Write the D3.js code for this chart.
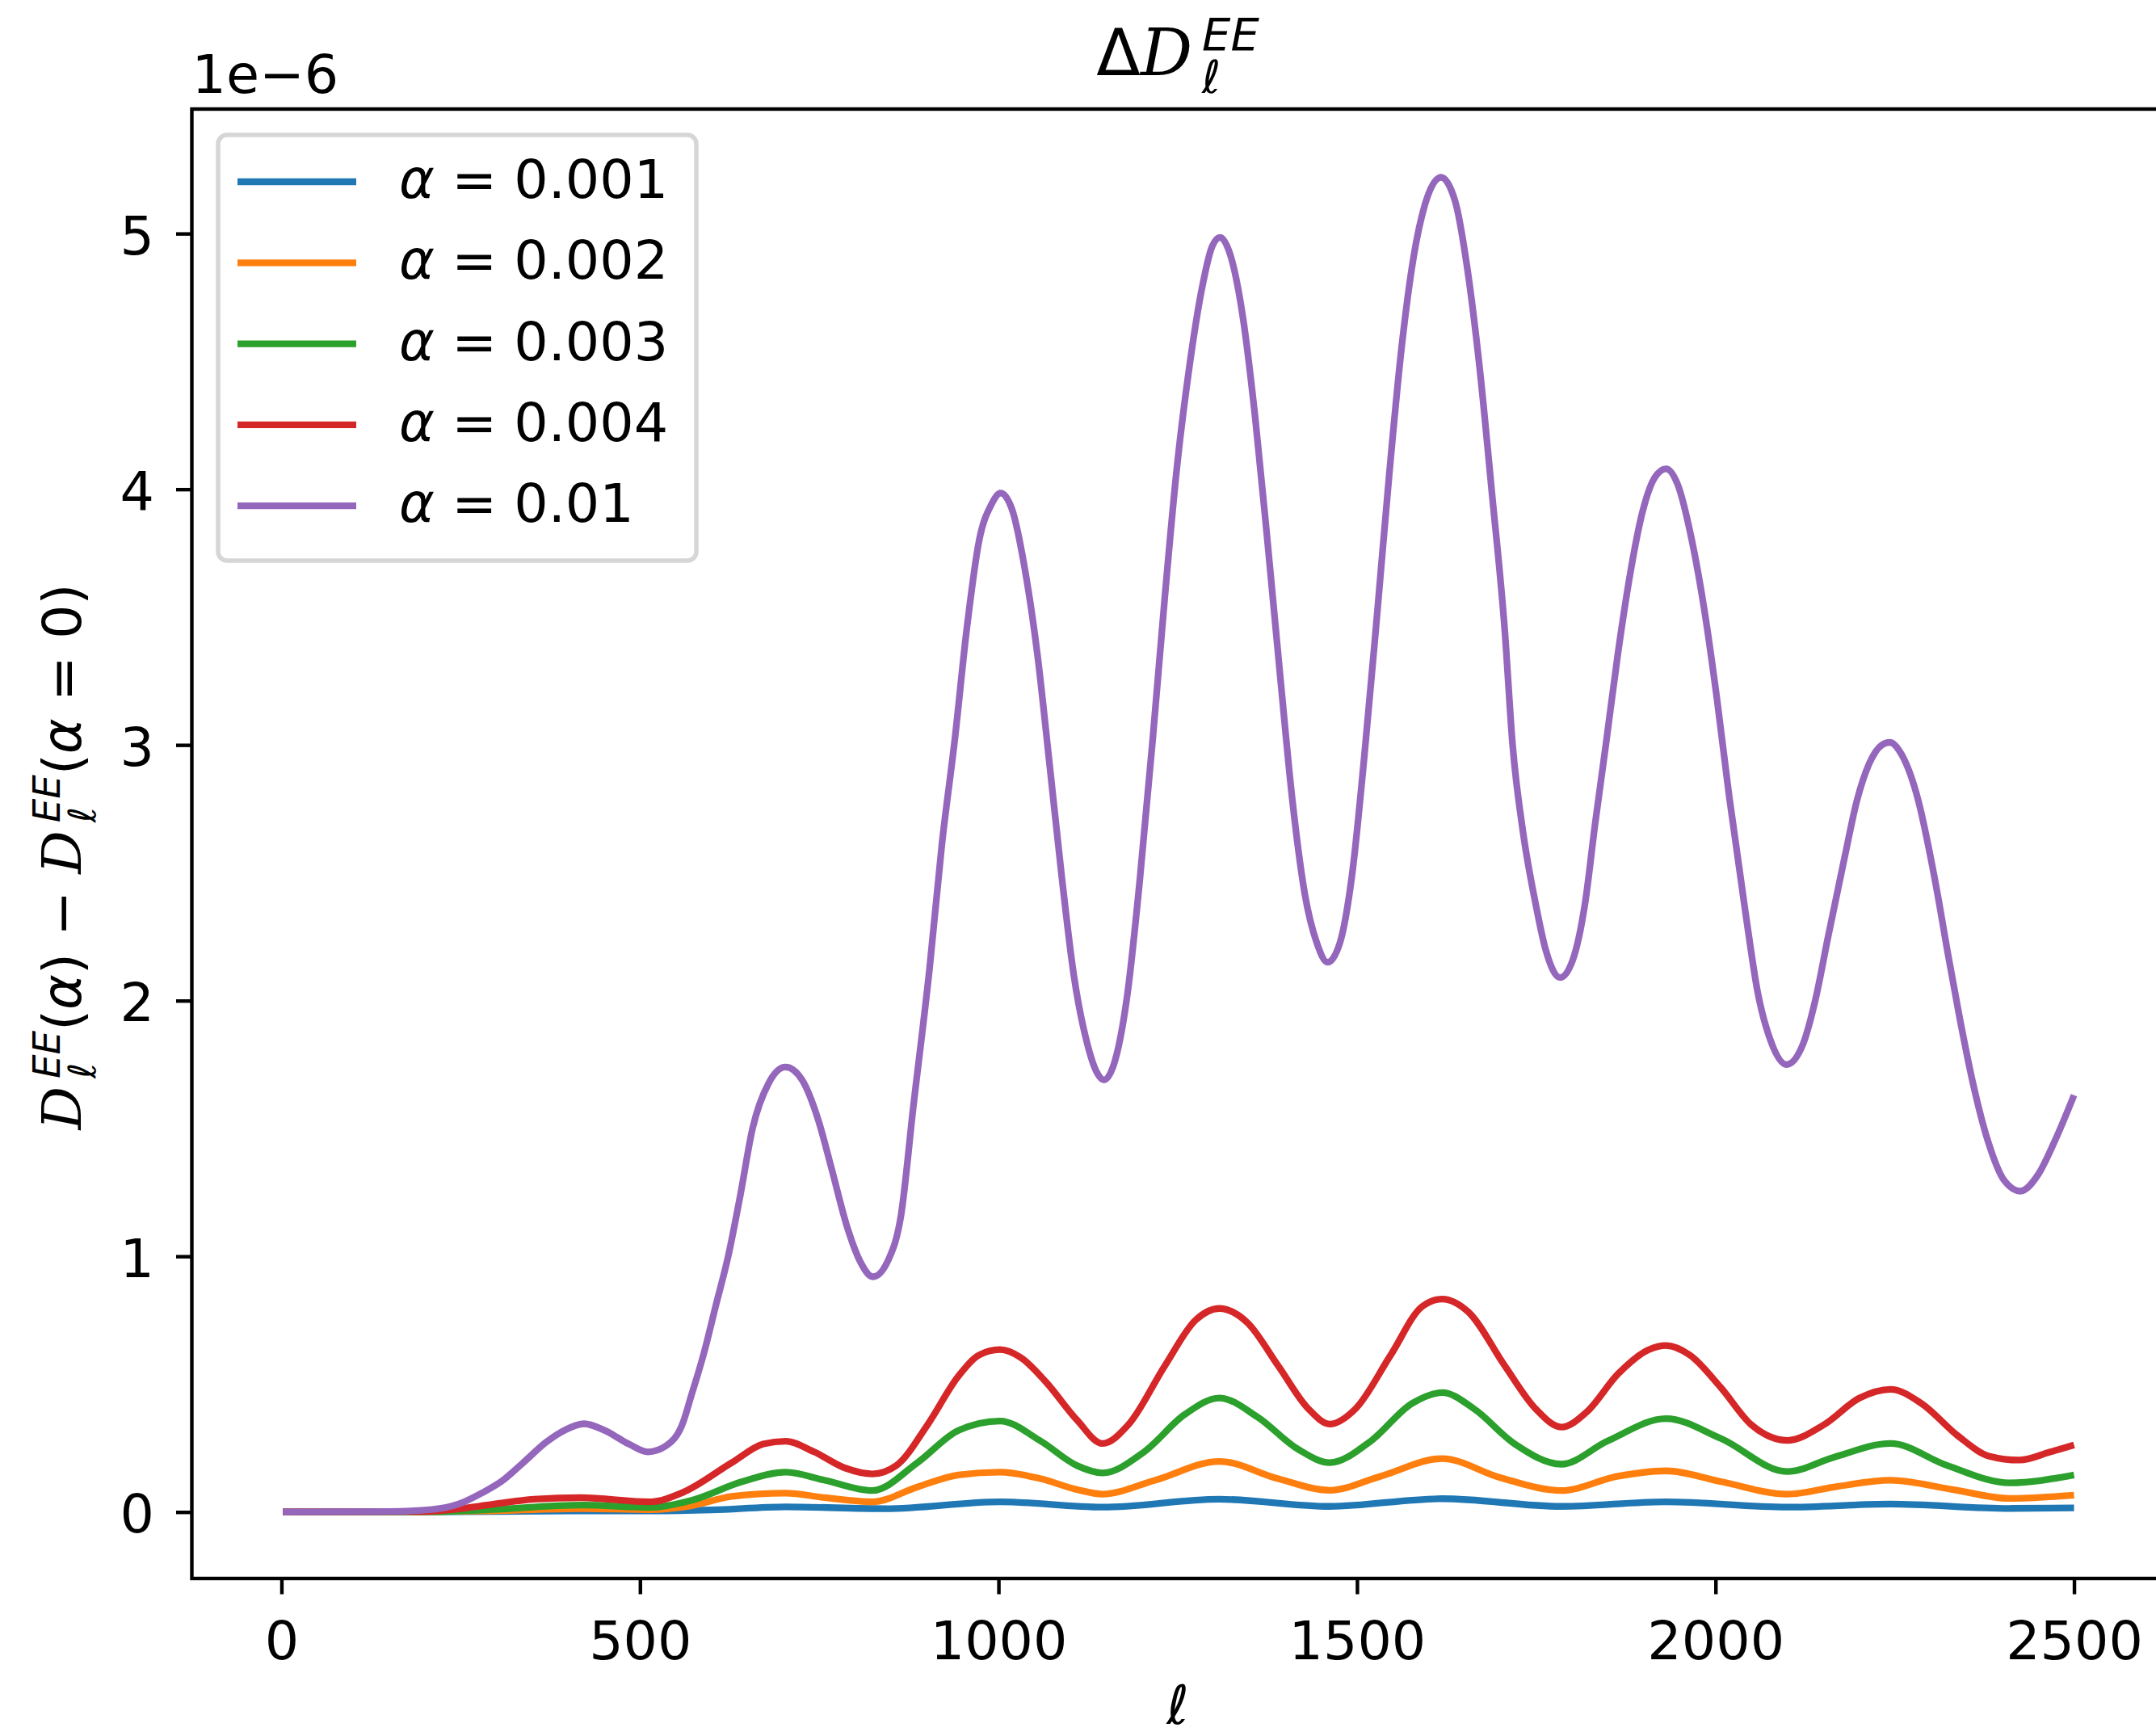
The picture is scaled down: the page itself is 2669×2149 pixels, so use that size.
<!DOCTYPE html>
<html><head><meta charset="utf-8">
<script src="https://cdn.jsdelivr.net/npm/d3@7"></script>
<style>body{margin:0;background:#fff}svg{display:block}</style>
</head><body>
<script>
// ---------------- data ----------------
const alphaLabels = ["0.001", "0.002", "0.003", "0.004", "0.01"];
const colors = ["#1f77b4", "#ff7f0e", "#2ca02c", "#d62728", "#9467bd"];
const xTicks = [0, 500, 1000, 1500, 2000, 2500];
const yTicks = [0, 1, 2, 3, 4, 5];
const offsetLabel = "1e\u22126";

const ell001 = [2, 200, 300, 420, 520, 600, 703, 843, 1002, 1145, 1308, 1462, 1619, 1785, 1931, 2100, 2244, 2410, 2500];
const val001 = [0, 0.0005, 0.002, 0.004, 0.004, 0.008, 0.020, 0.013, 0.040, 0.019, 0.050, 0.022, 0.052, 0.022, 0.040, 0.019, 0.031, 0.014, 0.016];

const ell002 = [2, 200, 284, 420, 514, 571, 628, 703, 758, 824, 887, 944, 1002, 1059, 1109, 1145, 1218, 1308, 1390, 1462, 1533, 1619, 1699, 1785, 1864, 1931, 2007, 2100, 2170, 2244, 2330, 2410, 2500];
const val002 = [0, 0.001, 0.004, 0.013, 0.009, 0.024, 0.061, 0.074, 0.056, 0.040, 0.098, 0.145, 0.156, 0.130, 0.088, 0.070, 0.124, 0.198, 0.130, 0.085, 0.140, 0.209, 0.135, 0.084, 0.140, 0.161, 0.119, 0.070, 0.100, 0.124, 0.088, 0.053, 0.066];

const ell003 = [2, 200, 284, 420, 514, 571, 643, 703, 758, 824, 887, 944, 1002, 1059, 1109, 1145, 1203, 1260, 1308, 1361, 1418, 1462, 1519, 1577, 1619, 1663, 1720, 1785, 1849, 1931, 2007, 2100, 2165, 2244, 2323, 2410, 2500];
const val003 = [0, 0.001, 0.008, 0.027, 0.018, 0.045, 0.119, 0.156, 0.124, 0.084, 0.193, 0.319, 0.356, 0.277, 0.182, 0.153, 0.235, 0.382, 0.446, 0.372, 0.245, 0.193, 0.277, 0.425, 0.467, 0.404, 0.266, 0.187, 0.277, 0.365, 0.288, 0.158, 0.214, 0.268, 0.182, 0.114, 0.145];

const ell004 = [2, 200, 240, 295, 352, 418, 514, 560, 628, 672, 703, 743, 786, 824, 858, 901, 944, 973, 1002, 1031, 1066, 1109, 1145, 1181, 1232, 1275, 1308, 1347, 1390, 1432, 1462, 1498, 1547, 1591, 1619, 1655, 1706, 1749, 1785, 1821, 1864, 1907, 1931, 1964, 2007, 2050, 2100, 2151, 2201, 2244, 2287, 2338, 2381, 2424, 2467, 2500];
const val004 = [0, 0.002, 0.010, 0.030, 0.050, 0.056, 0.040, 0.077, 0.193, 0.266, 0.277, 0.235, 0.172, 0.149, 0.183, 0.341, 0.531, 0.614, 0.635, 0.604, 0.509, 0.361, 0.268, 0.341, 0.572, 0.751, 0.796, 0.741, 0.572, 0.404, 0.344, 0.404, 0.614, 0.804, 0.833, 0.783, 0.572, 0.404, 0.332, 0.393, 0.540, 0.635, 0.651, 0.614, 0.488, 0.341, 0.280, 0.341, 0.446, 0.480, 0.425, 0.298, 0.219, 0.203, 0.235, 0.262];

const ell01 = [2, 150, 210, 240, 255, 280, 307, 336, 370, 395, 422, 450, 485, 511, 537, 560, 571, 589, 606, 623, 640, 657, 680, 703, 726, 749, 767, 790, 807, 825, 847, 864, 881, 904, 921, 939, 956, 973, 990, 1003, 1019, 1036, 1054, 1071, 1088, 1105, 1123, 1137, 1147, 1163, 1180, 1197, 1215, 1232, 1249, 1266, 1284, 1298, 1309, 1324, 1341, 1358, 1375, 1393, 1410, 1427, 1444, 1459, 1476, 1493, 1510, 1528, 1545, 1562, 1579, 1596, 1617, 1637, 1654, 1671, 1688, 1706, 1717, 1732, 1749, 1763, 1783, 1801, 1818, 1832, 1847, 1864, 1881, 1898, 1915, 1931, 1947, 1967, 1984, 2002, 2019, 2042, 2059, 2076, 2099, 2122, 2139, 2157, 2180, 2197, 2214, 2232, 2243, 2260, 2283, 2300, 2312, 2323, 2340, 2358, 2380, 2403, 2425, 2450, 2473, 2500];
const val01 = [0, 0.002, 0.010, 0.025, 0.040, 0.075, 0.120, 0.190, 0.275, 0.320, 0.345, 0.320, 0.265, 0.235, 0.260, 0.350, 0.450, 0.620, 0.810, 1.000, 1.240, 1.500, 1.680, 1.740, 1.690, 1.530, 1.345, 1.105, 0.980, 0.920, 0.990, 1.160, 1.580, 2.130, 2.610, 3.020, 3.460, 3.800, 3.940, 3.985, 3.920, 3.700, 3.360, 2.930, 2.490, 2.100, 1.840, 1.720, 1.690, 1.770, 2.030, 2.470, 3.020, 3.580, 4.090, 4.475, 4.790, 4.950, 4.985, 4.910, 4.670, 4.280, 3.800, 3.265, 2.780, 2.420, 2.225, 2.150, 2.225, 2.490, 2.950, 3.510, 4.060, 4.550, 4.910, 5.125, 5.220, 5.125, 4.860, 4.475, 3.990, 3.450, 3.000, 2.650, 2.380, 2.200, 2.090, 2.160, 2.380, 2.690, 3.000, 3.360, 3.670, 3.910, 4.045, 4.080, 4.020, 3.800, 3.535, 3.180, 2.800, 2.340, 2.030, 1.850, 1.750, 1.830, 2.000, 2.250, 2.560, 2.780, 2.925, 3.000, 3.010, 2.960, 2.780, 2.560, 2.380, 2.200, 1.940, 1.690, 1.450, 1.295, 1.255, 1.320, 1.450, 1.630];

const seriesEll = [ell001, ell002, ell003, ell004, ell01];
const seriesVal = [val001, val002, val003, val004, val01];

// ---------------- layout ----------------
const W = 2669, H = 2149;
const L = 237.5, T = 135, R = 2678.5, B = 1954;
const FONT = "DejaVu Sans";
const FS = 66.7;

const svg = d3.select("body").append("svg").attr("width", W).attr("height", H)
  .style("font-family", FONT);
svg.append("rect").attr("width", W).attr("height", H).attr("fill", "#fff");

const x = d3.scaleLinear().domain([-125, 2625]).range([L, R]);
const y = d3.scaleLinear().domain([-0.26, 5.487]).range([B, T]);

// lines
const line = d3.line().x(d => x(d[0])).y(d => y(d[1])).curve(d3.curveMonotoneX);
const lg = svg.append("g");
seriesEll.forEach((ells, i) => {
  const pts = ells.map((l, k) => [l, seriesVal[i][k]]);
  lg.append("path").attr("d", line(pts)).attr("fill", "none")
    .attr("stroke", colors[i]).attr("stroke-width", 8.3)
    .attr("stroke-linejoin", "round").attr("stroke-linecap", "butt");
});

// axes
const xa = svg.append("g").attr("transform", `translate(0,${B})`)
  .call(d3.axisBottom(x).tickValues(xTicks).tickSize(19.5).tickSizeOuter(0).tickFormat(d3.format("d")));
xa.select(".domain").remove();
xa.selectAll("line").attr("stroke", "#000").attr("stroke-width", 4.4);
xa.selectAll("text").attr("y", 100).attr("dy", 0).style("font-size", FS + "px").style("font-family", FONT).attr("fill", "#000");

const ya = svg.append("g").attr("transform", `translate(${L},0)`)
  .call(d3.axisLeft(y).tickValues(yTicks).tickSize(19.5).tickSizeOuter(0).tickFormat(d3.format("d")));
ya.select(".domain").remove();
ya.selectAll("line").attr("stroke", "#000").attr("stroke-width", 4.4);
ya.selectAll("text").attr("x", -46.5).attr("dy", 25).style("font-size", FS + "px").style("font-family", FONT).attr("fill", "#000");

// spines
svg.append("rect").attr("x", L).attr("y", T).attr("width", R - L).attr("height", B - T)
  .attr("fill", "none").attr("stroke", "#000").attr("stroke-width", 4.4);

// offset text
svg.append("text").attr("x", L).attr("y", 115).style("font-size", FS + "px").text(offsetLabel);

// math helper: sub/sup stacked in one text element
function mathRun(g, parts, fs) {
  let cx = 0;
  parts.forEach(p => {
    if (p.sub !== undefined || p.sup !== undefined) {
      const sfs = fs * 0.7;
      const t = g.append("text").style("font-size", sfs + "px").style("font-style", "italic");
      const a = t.append("tspan").attr("x", cx).attr("y", -fs * 0.39).text(p.sup);
      const wa = a.node().getComputedTextLength();
      const b = t.append("tspan").attr("x", cx).attr("y", fs * 0.275).text(p.sub);
      const wb = b.node().getComputedTextLength();
      cx += Math.max(wa, wb);
    } else {
      const t = g.append("text").attr("x", cx).attr("y", 0)
        .style("font-size", fs + "px").attr("xml:space", "preserve").style("white-space", "pre")
        .text(p.t);
      if (p.it) t.style("font-style", "italic");
      if (p.cal) t.style("font-family", "DejaVu Serif").style("font-style", "italic");
      cx += t.node().getComputedTextLength() + (p.gap || 0);
    }
  });
  return cx;
}

// title: a single text element with tspans
const TFS = 80;
const title = svg.append("text").attr("x", 0).attr("y", 93).style("font-size", TFS + "px");
title.append("tspan").text("\u0394");
title.append("tspan").style("font-family", "DejaVu Serif").style("font-style", "italic").text("D");
const supT = title.append("tspan").attr("dx", 12).attr("dy", -TFS * 0.39)
  .style("font-size", (TFS * 0.7) + "px").style("font-style", "italic").text("EE");
const supX = supT.node().getStartPositionOfChar(0).x;
title.append("tspan").attr("x", supX).attr("dy", TFS * 0.665)
  .style("font-size", (TFS * 0.7) + "px").style("font-style", "italic").text("\u2113");
const supEnd = supX + supT.node().getComputedTextLength();
title.attr("transform", `translate(${(L + R) / 2 - supEnd / 2},0)`);

// x label
svg.append("text").attr("x", (L + R) / 2).attr("y", 2134).attr("text-anchor", "middle")
  .style("font-size", FS + "px").style("font-style", "italic").text("\u2113");

// y label
const yg = svg.append("g");
const yw = mathRun(yg, [
  {t: "D", cal: true, gap: 10}, {sub: "\u2113", sup: "EE"},
  {t: "("}, {t: "\u03b1", it: true}, {t: ")"}, {t: " \u2212 "},
  {t: "D", cal: true, gap: 10}, {sub: "\u2113", sup: "EE"},
  {t: "("}, {t: "\u03b1", it: true}, {t: " = 0)"}
], FS);
yg.attr("transform", `translate(100,${(T + B) / 2 + 16}) rotate(-90) translate(${-yw / 2},0)`);

// legend
const leg = svg.append("g");
leg.append("rect").attr("x", 270).attr("y", 167).attr("width", 592).attr("height", 527)
  .attr("rx", 11).attr("fill", "#fff").attr("fill-opacity", 0.8)
  .attr("stroke", "#d6d6d6").attr("stroke-width", 5.5);
alphaLabels.forEach((lab, i) => {
  const yy = 225 + i * 100.3;
  leg.append("line").attr("x1", 294).attr("x2", 441).attr("y1", yy).attr("y2", yy)
    .attr("stroke", colors[i]).attr("stroke-width", 8.3);
  const t = leg.append("text").attr("x", 494).attr("y", yy + 20).style("font-size", FS + "px")
    .attr("xml:space", "preserve").style("white-space", "pre");
  t.append("tspan").style("font-style", "italic").text("\u03b1");
  t.append("tspan").text(" = " + lab);
});
</script>
</body></html>
